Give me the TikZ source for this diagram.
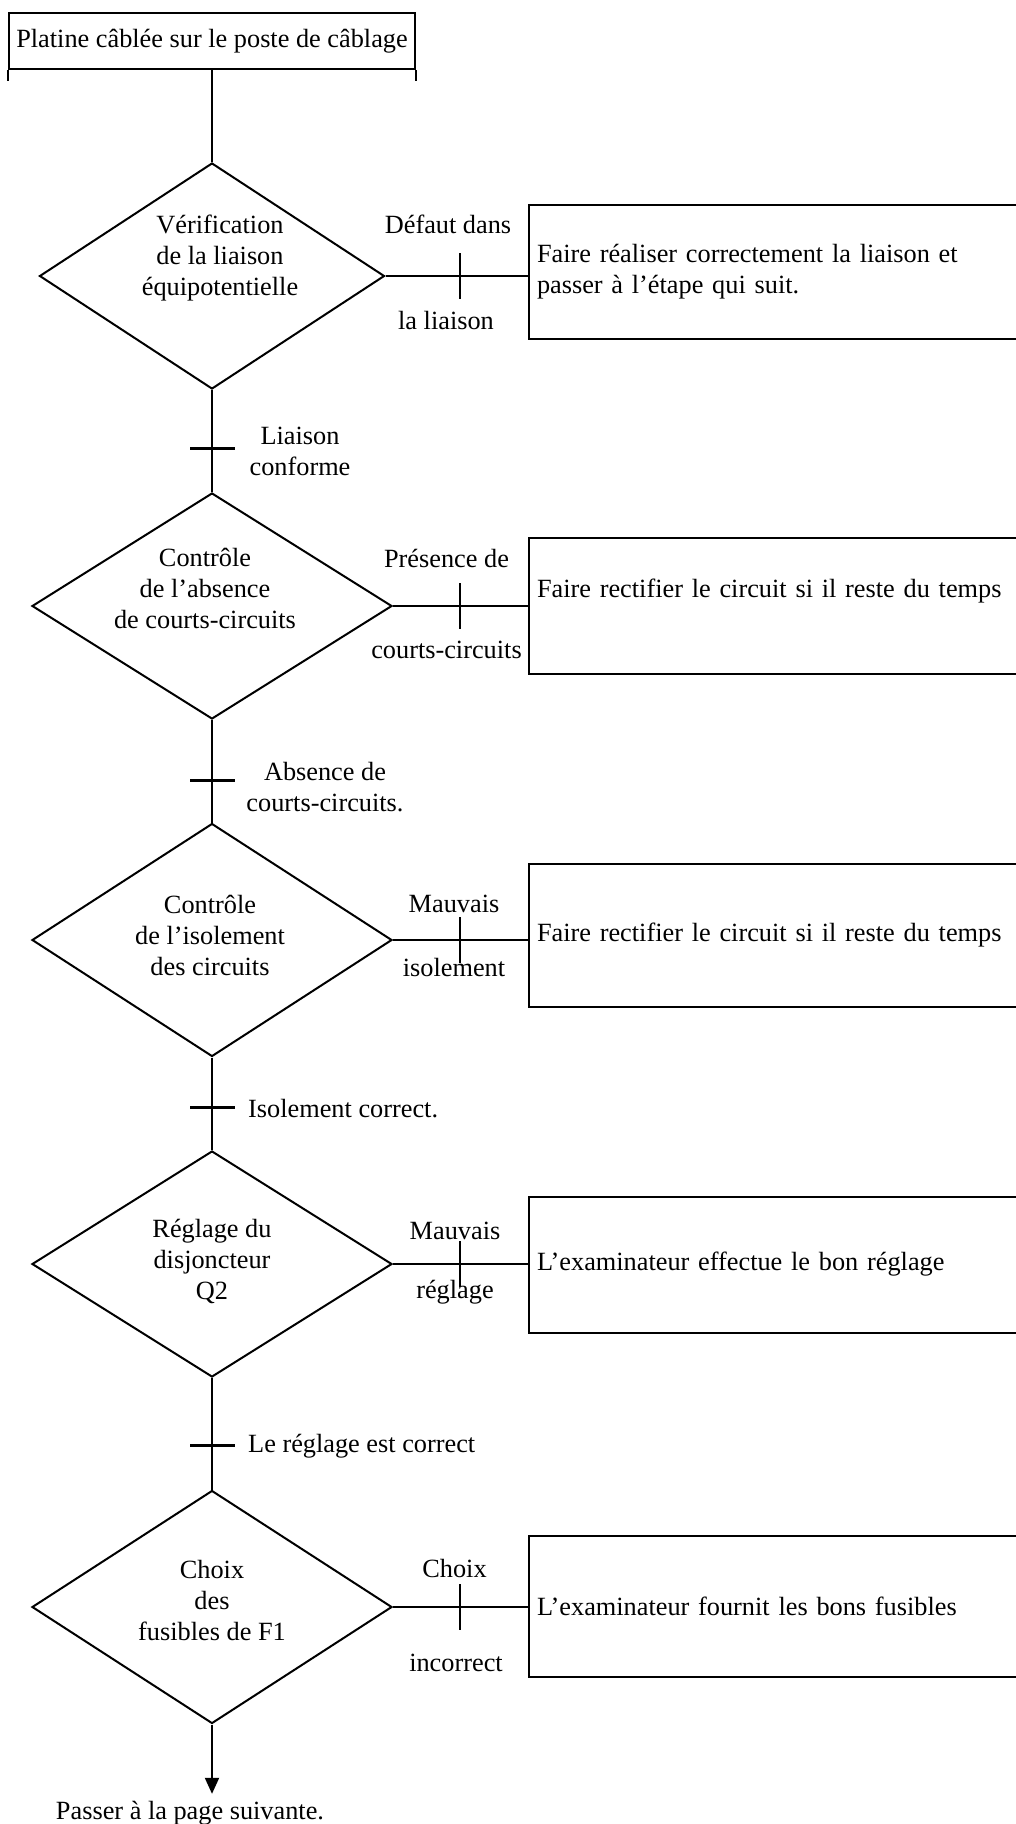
\documentclass[tikz,border=0pt]{standalone}
\usepackage{fontspec}
\setmainfont{Liberation Serif}
\usetikzlibrary{shapes.geometric,arrows.meta}

\begin{document}
\begin{tikzpicture}[x = 1pt, y = -1pt,
        every node/.style = {font = \fontsize{26.3}{31}\selectfont, inner sep = 0pt},
        decision/.style = {draw, diamond, line width = 2pt, minimum width = 360pt, minimum height = 226pt},
        action/.style = {draw, rectangle, line width = 2pt, anchor = west, text width = 486pt, inner xsep = 8pt, minimum height = 136pt, align = left},
        flow/.style = {line width = 2pt},
        link/.style = {line width = 1.6pt},
        vbar/.style = {line width = 2pt},
        hbar/.style = {line width = 3pt}]

        \useasboundingbox (0, 0) rectangle (1016, 1824);

        % Start
        \node [draw, rectangle, line width = 2pt, minimum width = 406pt, minimum height = 56pt] (start) at (212, 41) {Platine câblée sur le poste de câblage};
        \draw [flow] (start.south west) -- ++(0, 11);
        \draw [flow] (start.south east) -- ++(0, 11);

        % Decisions
        \node [decision, minimum width = 345pt] (d1) at (212, 276) {};
        \node [decision] (d2) at (212, 606) {};
        \node [decision, minimum height = 233pt] (d3) at (212, 940) {};
        \node [decision] (d4) at (212, 1264) {};
        \node [decision, minimum height = 233pt] (d5) at (212, 1607) {};

        \node [align = center] (q1) at (220, 258) {Vérification\\de la liaison\\équipotentielle};
        \node [align = center] (q2) at (205, 588) {Contrôle\\de l’absence\\de courts-circuits};
        \node [align = center] (q3) at (210, 935) {Contrôle\\de l’isolement\\des circuits};
        \node [align = center] (q4) at (212, 1261) {Réglage du\\disjoncteur\\Q2};
        \node [align = center] (q5) at (212, 1600) {Choix\\des\\fusibles de F1};

        % Actions
        \node [action, minimum height = 134pt] (b1) at (528, 272) {Faire réaliser correctement la liaison et\\passer à l’étape qui suit.};
        \node [action, text depth = 34pt] (b2) at (528, 605.5) {Faire rectifier le circuit si il reste du temps};
        \node [action, minimum height = 143pt] (b3) at (528, 935.5) {Faire rectifier le circuit si il reste du temps};
        \node [action] (b4) at (528, 1264.5) {L’examinateur effectue le bon réglage};
        \node [action, minimum height = 141pt] (b5) at (528, 1606.5) {L’examinateur fournit les bons fusibles};

        % Main line
        \draw [flow] (start.south) -- (d1.north);
        \draw [flow] (d1.south) -- (d2.north);
        \draw [flow] (d2.south) -- (d3.north);
        \draw [flow] (d3.south) -- (d4.north);
        \draw [flow] (d4.south) -- (d5.north);
        \node (next) at (190, 1813) {Passer à la page suivante.};
        \draw [flow, -{Triangle[width = 14pt, length = 16pt]}, shorten >= 7pt] (d5.south) -- (d5.south |- next.north);

        \draw [hbar] (d1.south |- 0, 448) ++(-22, 0) -- ++(45, 0);
        \draw [hbar] (d2.south |- 0, 780) ++(-22, 0) -- ++(45, 0);
        \draw [hbar] (d3.south |- 0, 1107) ++(-22, 0) -- ++(45, 0);
        \draw [hbar] (d4.south |- 0, 1445) ++(-22, 0) -- ++(45, 0);

        \node [align = center] (ok1) at (300, 451.5) {Liaison\\conforme};
        \node [align = center] (ok2) at (325, 787) {Absence de\\courts-circuits.};
        \node [anchor = base west] (ok3) at (248, 1117) {Isolement correct.};
        \node [anchor = base west] (ok4) at (248, 1452) {Le réglage est correct};

        % Side branches
        \draw [link] (d1.east) -- (d1.east -| b1.west);
        \draw [link] (d2.east) -- (d2.east -| b2.west);
        \draw [link] (d3.east) -- (d3.east -| b3.west);
        \draw [link] (d4.east) -- (d4.east -| b4.west);
        \draw [link] (d5.east) -- (d5.east -| b5.west);

        \draw [vbar] (d1.east -| b1.west) ++(-68, -23) -- ++(0, 46);
        \draw [vbar] (d2.east -| b2.west) ++(-68, -23) -- ++(0, 46);
        \draw [vbar] (d3.east -| b3.west) ++(-68, -23) -- ++(0, 46);
        \draw [vbar] (d4.east -| b4.west) ++(-68, -23) -- ++(0, 46);
        \draw [vbar] (d5.east -| b5.west) ++(-68, -23) -- ++(0, 46);

        \node [anchor = base] (n1a) at (448, 233) {Défaut dans};
        \node [anchor = base] (n1b) at (446, 329) {la liaison};
        \node [anchor = base] (n2a) at (446.5, 567) {Présence de};
        \node [anchor = base] (n2b) at (446.5, 658) {courts-circuits};
        \node [anchor = base] (n3a) at (454, 912) {Mauvais};
        \node [anchor = base] (n3b) at (454, 976) {isolement};
        \node [anchor = base] (n4a) at (455, 1239) {Mauvais};
        \node [anchor = base] (n4b) at (455, 1298) {réglage};
        \node [anchor = base] (n5a) at (454.5, 1577) {Choix};
        \node [anchor = base] (n5b) at (456, 1671) {incorrect};

    \end{tikzpicture}
\end{document}
